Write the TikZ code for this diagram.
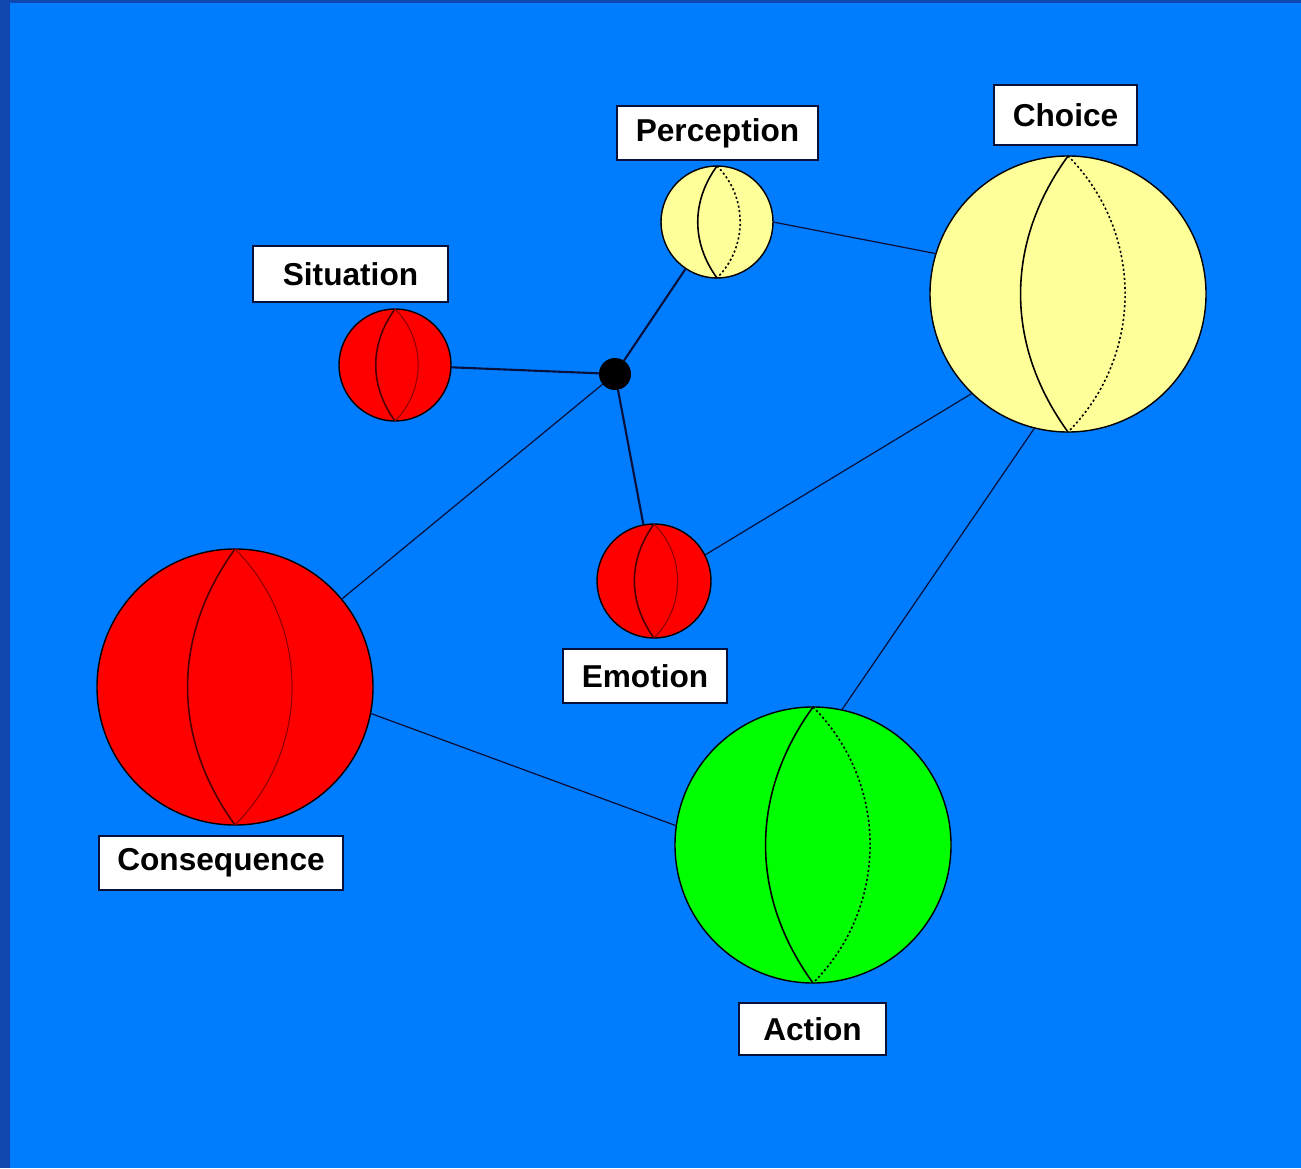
\documentclass[tikz,border=0pt]{standalone}
\usepackage{fontspec}
\setmainfont{Liberation Sans}
\usepackage{xcolor}

\definecolor{bgblue}{RGB}{0,124,255}
\definecolor{edgeblue}{RGB}{16,72,176}
\definecolor{pale}{RGB}{255,255,153}
\definecolor{ink}{RGB}{8,16,60}

\begin{document}
\begin{tikzpicture}[
  x=0.2mm, y=-0.2mm,
  font=\fontsize{18}{20}\selectfont\bfseries,
  sph/.style={circle, draw=black, line width=0.8pt, inner sep=0pt, outer sep=0pt},
  ysph/.style={sph, fill=pale},
  rsph/.style={sph, fill=red},
  gsph/.style={sph, fill=green},
  lbl/.style={draw=ink, line width=0.9pt, fill=white, inner sep=0pt, align=center},
  hubdot/.style={circle, fill=black, minimum size=6.4mm, inner sep=0pt, outer sep=0pt},
  lnk/.style={draw=ink, line width=0.7pt},
  spk/.style={draw=ink, line width=1.2pt},
  mer/.style={draw=black, line width=0.9pt},
  merd/.style={draw=black, line width=0.9pt, dash pattern=on 1.2pt off 1.4pt},
  rmer/.style={draw=red!30!black, line width=0.9pt},
  rmerd/.style={draw=red!55!black, line width=0.6pt},
]
% background
\fill[edgeblue] (0,0) rectangle (1301,1168);
\fill[bgblue] (10,3) rectangle (1301,1168);
\useasboundingbox (0,0) rectangle (1301,1168);

% spheres
\node[ysph, minimum size=22.4mm] (per) at (717,222) {};
\node[ysph, minimum size=55.2mm] (cho) at (1068,294) {};
\node[rsph, minimum size=22.4mm] (sit) at (395,365) {};
\node[rsph, minimum size=22.8mm] (emo) at (654,581) {};
\node[rsph, minimum size=55.2mm] (con) at (235,687) {};
\node[gsph, minimum size=55.2mm] (act) at (813,845) {};
\node[hubdot] (hub) at (615,374) {};

% meridians
\foreach \s in {per,cho,act}{
  \draw[mer] (\s.north) to[bend right=36] (\s.south);
  \draw[merd] (\s.north) to[bend left=45] (\s.south);
}
\foreach \s in {sit,emo,con}{
  \draw[rmer] (\s.north) to[bend right=36] (\s.south);
  \draw[rmerd] (\s.north) to[bend left=45] (\s.south);
}

% labels
\node[lbl, minimum width=40.2mm, minimum height=10.8mm] (perl) at (717.5,133) {Perception};
\node[lbl, minimum width=28.6mm, minimum height=12mm] (chol) at (1065.5,115) {Choice};
\node[lbl, minimum width=39mm, minimum height=11.2mm] (sitl) at (350.5,274) {Situation};
\node[lbl, minimum width=32.8mm, minimum height=10.8mm] (emol) at (645,676) {Emotion};
\node[lbl, minimum width=48.8mm, minimum height=10.8mm] (conl) at (221,863) {Consequence};
\node[lbl, minimum width=29.4mm, minimum height=10.4mm] (actl) at (812.5,1029) {Action};

% spokes from the hub
\foreach \s in {sit,per,emo}{\draw[spk] (hub)--(\s);}
\draw[lnk] (hub)--(con);

% links
\draw[lnk] (per.east)--(cho.163);
\draw[lnk] (cho.226)--(emo.27);
\draw[lnk] (cho.256)--(act.78);
\draw[lnk] (con.-11)--(act.172);

\end{tikzpicture}
\end{document}
